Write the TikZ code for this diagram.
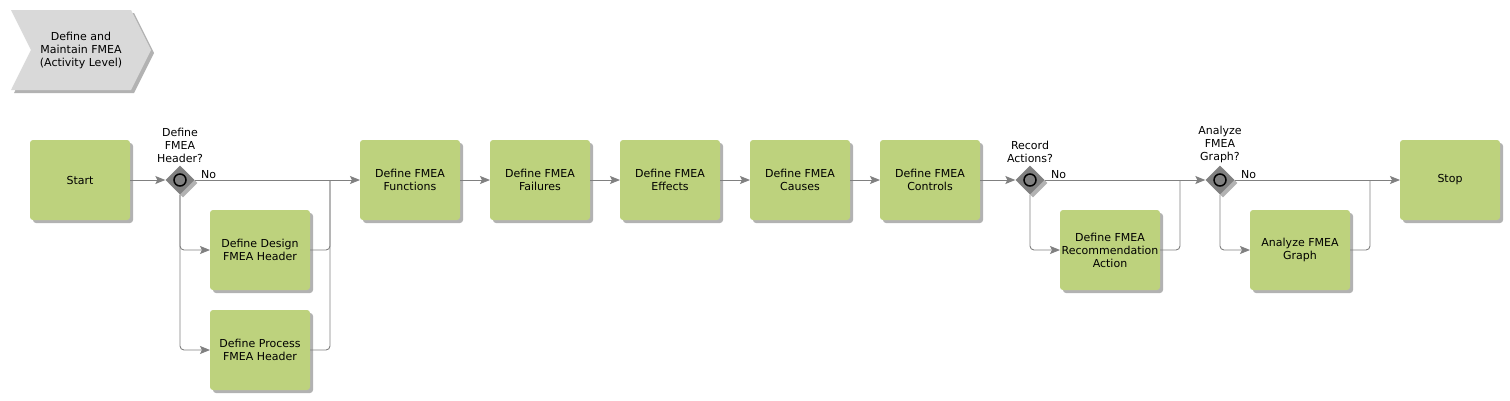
\documentclass[tikz,border=0pt]{standalone}
\usepackage{fontspec}
\setmainfont{DejaVu Sans}
\usetikzlibrary{shapes.geometric, shapes.symbols, arrows.meta, positioning, shadows}

\definecolor{taskgreen}{RGB}{189,210,125}
\definecolor{bannergray}{RGB}{217,217,217}
\definecolor{gategray}{RGB}{128,128,128}
\definecolor{linegray}{RGB}{128,128,128}

\begin{document}
\begin{tikzpicture}[
    x=1pt, y=-1pt,
    font=\fontsize{11}{13}\selectfont,
    shadowed/.style={drop shadow={shadow xshift=3pt, shadow yshift=-3pt, fill=black, opacity=0.3}},
    banner/.style={signal, signal from=west, signal to=east, signal pointer angle=127, fill=bannergray, shadowed, minimum width=140pt, minimum height=80pt, inner sep=0pt, align=center},
    task/.style={rectangle, rounded corners=3pt, fill=taskgreen, shadowed, minimum width=100pt, minimum height=80pt, inner sep=0pt, outer sep=0pt, align=center},
    gate/.style={diamond, fill=gategray, shadowed, minimum size=29pt, inner sep=0pt},
    ring/.style={circle, draw=black, line width=1.5pt, fill=gategray, minimum size=12pt, inner sep=0pt},
    question/.style={align=center, inner sep=1pt},
    flow/.style={draw=linegray, line width=0.9pt, -{Stealth[length=10pt, width=8pt, inset=2pt]}},
    link/.style={draw=linegray, line width=0.9pt, rounded corners=4pt},
    lbl/.style={anchor=south west, inner sep=1pt, xshift=5pt}
]
\useasboundingbox (0,0) rectangle (1510,400);

% Title
\node[banner] (title) at (81,50) {Define and\\Maintain FMEA\\(Activity Level)};

% Start and header decision
\node[task] (start) at (80,180) {Start};
\node[gate] (g1) at (180,180) {};
\node[ring] (g1ring) at (g1) {};
\node[question, above=1pt of g1] (q1) {Define\\FMEA\\Header?};
\node[task] (des) at (260,250) {Define Design\\FMEA Header};
\node[task] (pro) at (260,350) {Define Process\\FMEA Header};
\coordinate (m1) at (330,180);

% Main chain
\node[task] (fun) at (410,180) {Define FMEA\\Functions};
\node[task, right=30pt of fun] (fai) {Define FMEA\\Failures};
\node[task, right=30pt of fai] (eff) {Define FMEA\\Effects};
\node[task, right=30pt of eff] (cau) {Define FMEA\\Causes};
\node[task, right=30pt of cau] (con) {Define FMEA\\Controls};

% Actions decision
\node[gate] (g2) at (1030,180) {};
\node[ring] (g2ring) at (g2) {};
\node[question, above=1pt of g2] (q2) {Record\\Actions?};
\node[task] (rec) at (1110,250) {Define FMEA\\Recommendation\\Action};
\coordinate (m2) at (1180,180);

% Graph decision
\node[gate] (g3) at (1220,180) {};
\node[ring] (g3ring) at (g3) {};
\node[question, above=1pt of g3] (q3) {Analyze\\FMEA\\Graph?};
\node[task] (ana) at (1300,250) {Analyze FMEA\\Graph};
\coordinate (m3) at (1370,180);

% Stop
\node[task] (stop) at (1450,180) {Stop};

% Arrows
\draw[flow] (start) -- (g1);
\draw[flow] (g1) -- node[lbl, pos=0] {No} (fun);
\draw[flow, rounded corners=4pt] (g1) |- (des);
\draw[flow, rounded corners=4pt] (g1) |- (pro);
\draw[link] (des) -| (m1);
\draw[link] (pro) -| (m1);
\draw[flow] (fun) -- (fai);
\draw[flow] (fai) -- (eff);
\draw[flow] (eff) -- (cau);
\draw[flow] (cau) -- (con);
\draw[flow] (con) -- (g2);
\draw[flow] (g2) -- node[lbl, pos=0] {No} (g3);
\draw[flow, rounded corners=4pt] (g2) |- (rec);
\draw[link] (rec) -| (m2);
\draw[flow] (g3) -- node[lbl, pos=0] {No} (stop);
\draw[flow, rounded corners=4pt] (g3) |- (ana);
\draw[link] (ana) -| (m3);

\end{tikzpicture}
\end{document}
